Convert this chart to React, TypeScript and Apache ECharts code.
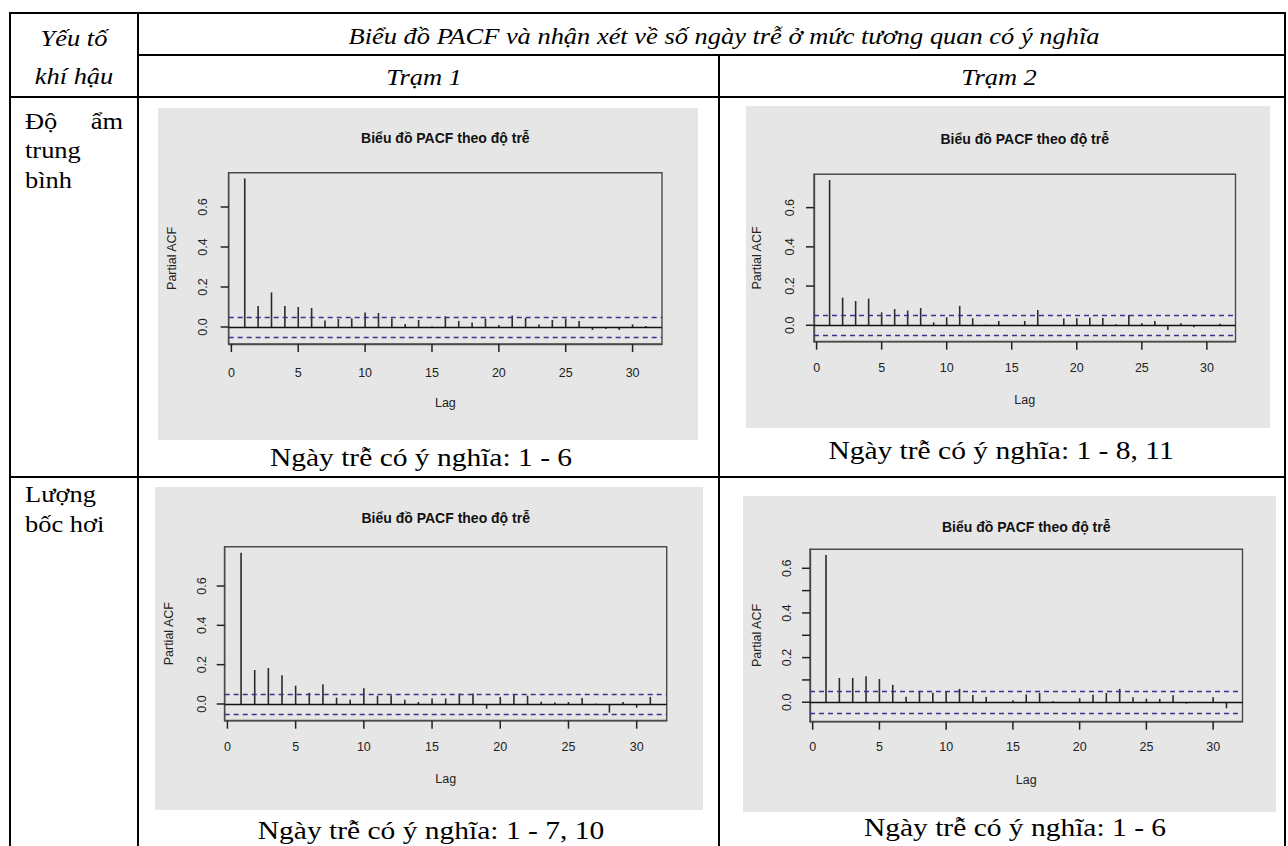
import React, { useEffect, useRef } from "react";
import * as echarts from "echarts";

// ---------- data ----------
const lags = [1, 2, 3, 4, 5, 6, 7, 8, 9, 10, 11, 12, 13, 14, 15, 16, 17, 18, 19, 20, 21, 22, 23, 24, 25, 26, 27, 28, 29, 30, 31];

const pacfDoAmTram1 = [0.743, 0.105, 0.173, 0.105, 0.1, 0.095, 0.033, 0.04, 0.043, 0.073, 0.07, 0.043, 0.015, 0.035, 0.003, 0.054, 0.03, 0.023, 0.042, 0.01, 0.058, 0.045, 0.013, 0.035, 0.042, 0.03, -0.015, -0.01, -0.015, 0.013, 0.005];
const pacfDoAmTram2 = [0.741, 0.141, 0.124, 0.136, 0.066, 0.083, 0.075, 0.088, 0.015, 0.041, 0.099, 0.036, 0.003, 0.022, 0.002, 0.022, 0.078, 0.002, 0.035, 0.036, 0.039, 0.037, 0.005, 0.053, 0.01, 0.022, -0.024, 0.01, -0.01, 0.002, 0.008];
const pacfBocHoiTram1 = [0.769, 0.173, 0.183, 0.146, 0.093, 0.057, 0.1, 0.032, 0.022, 0.08, 0.042, 0.045, 0.022, 0.01, 0.028, 0.028, 0.053, 0.053, -0.024, 0.036, 0.049, 0.042, 0.012, 0.007, 0.01, 0.031, 0.002, -0.044, 0.01, -0.019, 0.036];
const pacfBocHoiTram2 = [0.66, 0.109, 0.109, 0.116, 0.104, 0.078, 0.025, 0.048, 0.043, 0.048, 0.06, 0.033, 0.024, 0.002, 0.009, 0.035, 0.042, 0.005, -0.004, 0.018, 0.034, 0.042, 0.06, 0.022, 0.016, 0.015, 0.031, -0.006, 0.002, 0.022, -0.027];

const ciDoAmTram1 = 0.052;
const ciDoAmTram2 = 0.05;
const ciBocHoiTram1 = 0.052;
const ciBocHoiTram2 = 0.051;

const xTickValues = [0, 5, 10, 15, 20, 25, 30];
const yTickValuesCoarse = [0, 0.2, 0.4, 0.6];
const yTickValuesFine = [0, 0.1, 0.2, 0.3, 0.4, 0.5, 0.6];
const yLabelValues = [0, 0.2, 0.4, 0.6];

const chartTitle = "Biểu đồ PACF theo độ trễ";
const headerFactor = ["Yếu tố", "khí hậu"];
const headerMain = "Biểu đồ PACF và nhận xét về số ngày trễ ở mức tương quan có ý nghĩa";
const headerStations = ["Trạm 1", "Trạm 2"];
const captions = [
  "Ngày trễ có ý nghĩa: 1 - 6",
  "Ngày trễ có ý nghĩa: 1 - 8, 11",
  "Ngày trễ có ý nghĩa: 1 - 7, 10",
  "Ngày trễ có ý nghĩa: 1 - 6",
];

// ---------- layout ----------
const X_MIN = -0.2;
const X_MAX = 32.2;
const panels = [
  { values: pacfDoAmTram1, ci: ciDoAmTram1, box: { left: 228.7, top: 172.7, width: 433.3, height: 171.3 }, ymin: -0.085, ymax: 0.7715, yTicks: yTickValuesCoarse, bg: [158, 108, 540, 332], titleY: 138, cap: [421, 458], yMargin: 19, xMargin: 22, yNameGap: 50 },
  { values: pacfDoAmTram2, ci: ciDoAmTram2, box: { left: 814, top: 174.3, width: 421.5, height: 167.4 }, ymin: -0.0837, ymax: 0.77, yTicks: yTickValuesCoarse, bg: [746, 106, 524, 322], titleY: 139, cap: [1001, 451], yMargin: 18, xMargin: 20, yNameGap: 51 },
  { values: pacfBocHoiTram1, ci: ciBocHoiTram1, box: { left: 224.7, top: 546.7, width: 442, height: 174 }, ymin: -0.085, ymax: 0.8, yTicks: yTickValuesCoarse, bg: [155, 487, 548, 323], titleY: 518, cap: [431, 831], yMargin: 16, xMargin: 20, yNameGap: 49 },
  { values: pacfBocHoiTram2, ci: ciBocHoiTram2, box: { left: 810, top: 549.3, width: 432.5, height: 172.4 }, ymin: -0.087, ymax: 0.685, yTicks: yTickValuesFine, bg: [743, 496, 533, 316], titleY: 527, cap: [1015, 828], yMargin: 17, xMargin: 19, yNameGap: 47 },
];

const SANS = "'Liberation Sans', Arial, sans-serif";
const SERIF = "'Liberation Serif', 'Times New Roman', serif";
const TABLE_FS = 23;
const TABLE_SX = 1.15;
const CAPTION_FS = 25;
const CAPTION_SX = 1.18;
const BOX_COLOR = "#4a4a4a";
const TICK_LEN = 8;

function tableText(text: string, x: number, y: number, align: string, italic: boolean, fs = TABLE_FS, sx = TABLE_SX) {
  return {
    type: "text",
    x,
    y,
    scaleX: sx,
    z: 10,
    style: {
      text,
      fill: "#000",
      font: `${italic ? "italic " : ""}${fs}px ${SERIF}`,
      textAlign: align,
      textVerticalAlign: "middle",
    },
  };
}

function hLine(x1: number, x2: number, y: number) {
  return { type: "line", z: 10, shape: { x1, y1: y, x2, y2: y }, style: { stroke: "#000", lineWidth: 2 } };
}
function vLine(x: number, y1: number, y2: number) {
  return { type: "line", z: 10, shape: { x1: x, y1, x2: x, y2 }, style: { stroke: "#000", lineWidth: 2 } };
}

export default function App() {
  const ref = useRef<HTMLDivElement>(null);

  useEffect(() => {
    if (!ref.current) return;
    const chart = echarts.init(ref.current, null, { renderer: "svg" });

    const grids: any[] = [];
    const xAxes: any[] = [];
    const yAxes: any[] = [];
    const series: any[] = [];
    const graphics: any[] = [];

    panels.forEach((p, i) => {
      graphics.push({
        type: "rect",
        z: -100,
        silent: true,
        shape: { x: p.bg[0], y: p.bg[1], width: p.bg[2], height: p.bg[3] },
        style: { fill: "#e6e6e6" },
      });
      graphics.push({
        type: "text",
        x: p.box.left + p.box.width / 2,
        y: p.titleY,
        z: 10,
        style: {
          text: chartTitle,
          font: `bold 14px ${SANS}`,
          fill: "#111",
          textAlign: "center",
          textVerticalAlign: "middle",
        },
      });
      graphics.push(tableText(captions[i], p.cap[0], p.cap[1], "center", false, CAPTION_FS, CAPTION_SX));

      grids.push({
        left: p.box.left,
        top: p.box.top,
        width: p.box.width,
        height: p.box.height,
        show: true,
        borderColor: BOX_COLOR,
        borderWidth: 1.4,
        backgroundColor: "rgba(0,0,0,0)",
        containLabel: false,
      });
      xAxes.push({
        gridIndex: i,
        type: "value",
        position: "bottom",
        min: X_MIN,
        max: X_MAX,
        axisLine: { show: true, onZero: false, lineStyle: { color: BOX_COLOR, width: 1.4 } },
        splitLine: { show: false },
        axisTick: { show: false },
        axisLabel: { show: true, customValues: xTickValues, margin: p.xMargin, fontSize: 12.5, color: "#222", fontFamily: SANS },
        name: "Lag",
        nameLocation: "middle",
        nameGap: 52,
        nameTextStyle: { fontSize: 12.5, color: "#222", fontFamily: SANS },
      });
      yAxes.push({
        gridIndex: i,
        type: "value",
        position: "left",
        min: p.ymin,
        max: p.ymax,
        axisLine: { show: true, onZero: false, lineStyle: { color: BOX_COLOR, width: 1.4 } },
        splitLine: { show: false },
        axisTick: { show: false },
        axisLabel: {
          show: true,
          customValues: yLabelValues,
          rotate: 90,
          margin: p.yMargin,
          fontSize: 12.5,
          color: "#222",
          fontFamily: SANS,
          formatter: (v: number) => v.toFixed(1),
        },
        name: "Partial ACF",
        nameLocation: "middle",
        nameRotate: 90,
        nameGap: p.yNameGap,
        nameTextStyle: { fontSize: 12.5, color: "#222", fontFamily: SANS },
      });
      series.push({
        type: "bar",
        xAxisIndex: i,
        yAxisIndex: i,
        barWidth: 1.6,
        itemStyle: { color: "#2b2b2b" },
        data: lags.map((l, k) => [l, p.values[k]]),
        markLine: {
          silent: true,
          symbol: ["none", "none"],
          label: { show: false },
          data: [
            { yAxis: 0, lineStyle: { color: "#111", width: 1.3, type: "solid" } },
            { yAxis: p.ci, lineStyle: { color: "#35358a", width: 1.3, type: [5, 4] } },
            { yAxis: -p.ci, lineStyle: { color: "#35358a", width: 1.3, type: [5, 4] } },
          ],
        },
      });
    });

    // table structure
    const L = 10, R = 1285, C1 = 138, C2 = 719, TOP = 13, MID = 55, HB = 97, RB = 477, BOT = 846;
    graphics.push(hLine(L - 1, R + 1, TOP));
    graphics.push(hLine(C1, R, MID));
    graphics.push(hLine(L - 1, R + 1, HB));
    graphics.push(hLine(L - 1, R + 1, RB));
    graphics.push(vLine(L, TOP, BOT));
    graphics.push(vLine(C1, TOP, BOT));
    graphics.push(vLine(C2, MID, BOT));
    graphics.push(vLine(R, TOP, BOT));

    graphics.push(tableText(headerFactor[0], 74, 38, "center", true));
    graphics.push(tableText(headerFactor[1], 74, 76, "center", true));
    graphics.push(tableText(headerMain, 724, 36, "center", true));
    graphics.push(tableText(headerStations[0], 424, 77, "center", true));
    graphics.push(tableText(headerStations[1], 999, 77, "center", true));

    graphics.push(tableText("Độ", 25, 121, "left", false));
    graphics.push(tableText("ẩm", 123, 121, "right", false));
    graphics.push(tableText("trung", 25, 150, "left", false));
    graphics.push(tableText("bình", 25, 180, "left", false));
    graphics.push(tableText("Lượng", 25, 494, "left", false));
    graphics.push(tableText("bốc hơi", 25, 524, "left", false));

    chart.setOption({
      animation: false,
      backgroundColor: "#ffffff",
      grid: grids,
      xAxis: xAxes,
      yAxis: yAxes,
      series,
      graphic: { elements: graphics },
    });

    // R-style outward tick marks, positioned through each grid's own axis scales
    const ticks: any[] = [];
    panels.forEach((p, i) => {
      xTickValues.forEach((v) => {
        const pt = chart.convertToPixel({ gridIndex: i } as any, [v, p.ymin]) as number[];
        if (pt && isFinite(pt[0])) {
          ticks.push({
            type: "line",
            z: 20,
            silent: true,
            shape: { x1: pt[0], y1: pt[1], x2: pt[0], y2: pt[1] + TICK_LEN },
            style: { stroke: "#222", lineWidth: 1.5 },
          });
        }
      });
      p.yTicks.forEach((v) => {
        const pt = chart.convertToPixel({ gridIndex: i } as any, [X_MIN, v]) as number[];
        if (pt && isFinite(pt[1])) {
          ticks.push({
            type: "line",
            z: 20,
            silent: true,
            shape: { x1: pt[0], y1: pt[1], x2: pt[0] - TICK_LEN, y2: pt[1] },
            style: { stroke: "#222", lineWidth: 1.5 },
          });
        }
      });
    });
    chart.setOption({ graphic: { elements: graphics.concat(ticks) } });

    return () => chart.dispose();
  }, []);

  return <div ref={ref} style={{ position: "absolute", left: 0, top: 0, width: 1288, height: 846 }} />;
}
